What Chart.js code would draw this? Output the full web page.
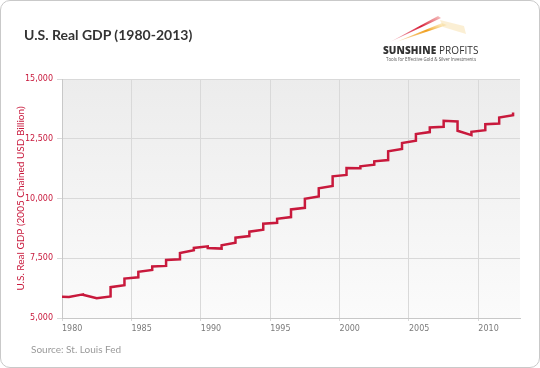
<!DOCTYPE html>
<html>
<head>
<meta charset="utf-8">
<script src="https://cdn.jsdelivr.net/npm/chart.js@4.4.0/dist/chart.umd.min.js"></script>
<style>
  body { margin: 0; background: #fff; }
  #card {
    position: absolute; left: 0; top: 0; width: 538px; height: 366px;
    border: 1px solid #c9c9c9; border-radius: 10px; background: #fff;
  }
  #chart { position: absolute; left: 0; top: 0; }
  #title {
    position: absolute; left: 24px; top: 26px; font-family: Lato, sans-serif;
    font-weight: bold; font-size: 14px; color: #333;
  }
  #logo { position: absolute; left: 380px; top: 8px; width: 110px; height: 56px; }
  #logoName {
    position: absolute; left: 383px; top: 43px; font-family: "Open Sans", sans-serif;
    font-size: 10px; color: #333; letter-spacing: 0.1px;
  }
  #logoName b { font-weight: 800; }
  #tagline {
    position: absolute; left: 386px; top: 56px; font-family: "Open Sans", sans-serif;
    font-size: 4.4px; color: #555; white-space: nowrap;
  }
  #source {
    position: absolute; left: 31px; top: 343px; font-family: Lato, sans-serif;
    font-size: 10px; color: #9a9a9a;
  }
</style>
</head>
<body>
<div id="card"></div>
<canvas id="chart" width="540" height="368"></canvas>
<div id="title">U.S. Real GDP (1980-2013)</div>
<svg id="logo" viewBox="0 0 110 56">
  <defs>
    <linearGradient id="sw1" x1="0" y1="1" x2="1" y2="0">
      <stop offset="0" stop-color="#d8203a" stop-opacity="0.2"/>
      <stop offset="0.6" stop-color="#d8203a"/>
      <stop offset="1" stop-color="#e04040" stop-opacity="0.3"/>
    </linearGradient>
    <linearGradient id="sw2" x1="0" y1="1" x2="1" y2="0">
      <stop offset="0" stop-color="#f0a020" stop-opacity="0.2"/>
      <stop offset="0.6" stop-color="#f0a020"/>
      <stop offset="1" stop-color="#f8d060" stop-opacity="0.2"/>
    </linearGradient>
  </defs>
  <path d="M10 34 L58 8 L61 10 Z" fill="url(#sw1)"/>
  <path d="M16 34 L62 15 L67 17 Z" fill="url(#sw2)"/>
  <path d="M60 12 L84 18 L86 26 L63 19 Z" fill="#f6dca0" opacity="0.45"/>
</svg>
<div id="logoName"><b>SUNSHINE</b> PROFITS</div>
<div id="tagline">Tools for Effective Gold &amp; Silver Investments</div>
<div id="source">Source: St. Louis Fed</div>
<script>
// each year is drawn as a short segment centred on the year, with jumps in between
const years = [1980, 1981, 1982, 1983, 1984, 1985, 1986, 1987, 1988, 1989,
               1990, 1991, 1992, 1993, 1994, 1995, 1996, 1997, 1998, 1999,
               2000, 2001, 2002, 2003, 2004, 2005, 2006, 2007, 2008, 2009,
               2010, 2011, 2012, 2013];
// value at the start of each year's segment
const segStart = [5888, 5880, 5975, 5830, 6290, 6650, 6930, 7153, 7430, 7722,
                  7930, 7930, 8042, 8361, 8611, 8944, 9153, 9542, 9986, 10430,
                  10930, 11278, 11347, 11556, 11972, 12320, 12694, 12972, 13250, 12833,
                  12792, 13111, 13389, 13597];
// value at the end of each year's segment
const segEnd = [5880, 5988, 5830, 5900, 6375, 6705, 7013, 7180, 7460, 7833,
                8000, 7903, 8153, 8430, 8694, 8986, 9222, 9611, 10083, 10528,
                10986, 11264, 11417, 11611, 12069, 12417, 12778, 13000, 13222, 12653,
                12861, 13139, 13486];
const yTicks = [5000, 7500, 10000, 12500, 15000];
const xTicks = [1980, 1985, 1990, 1995, 2000, 2005, 2010];

var points = [];
for (var i = 0; i < years.length; i++) {
    points.push({x: Math.max(years[0], years[i] - 0.5), y: segStart[i]});
    if (segEnd[i] !== undefined) {
        points.push({x: years[i] + 0.5, y: segEnd[i]});
    }
}

const plotBg = {
    id: 'plotBg',
    beforeDraw(chart) {
        const a = chart.chartArea;
        const ctx = chart.ctx;
        const g = ctx.createLinearGradient(0, a.top, 0, a.bottom);
        g.addColorStop(0, '#ececec');
        g.addColorStop(1, '#fbfbfb');
        ctx.save();
        ctx.fillStyle = g;
        ctx.fillRect(a.left, a.top, a.right - a.left, a.bottom - a.top);
        ctx.restore();
    }
};

let ctx = document.getElementById('chart');
let gdpChart = new Chart(ctx, {
    type: 'line',
    data: {
        datasets: [{
            label: 'Real GDP',
            data: points,
            borderColor: '#c8193c',
            borderWidth: 2.5,
            pointRadius: 0,
            tension: 0,
            fill: false
        }]
    },
    options: {
        responsive: false,
        animation: false,
        devicePixelRatio: 1,
        layout: { padding: { left: 0, top: 79, right: 20, bottom: 30 } },
        plugins: {
            legend: { display: false },
            tooltip: { enabled: false }
        },
        scales: {
            x: {
                type: 'linear',
                min: 1980,
                max: 2013,
                afterFit: function (scale) { scale.height = 20; },
                afterBuildTicks: function (scale) {
                    scale.ticks = xTicks.map(v => ({value: v}));
                },
                grid: { color: '#d9d9d9', tickLength: 3 },
                border: { color: '#c8c8c8' },
                ticks: {
                    align: 'start',
                    padding: 3,
                    color: '#7a7a7a',
                    font: { family: 'DejaVu Sans', size: 8 },
                    callback: v => String(v)
                }
            },
            y: {
                min: 5000,
                max: 15000,
                afterFit: function (scale) { scale.width = 62; },
                afterBuildTicks: function (scale) {
                    scale.ticks = yTicks.map(v => ({value: v}));
                },
                grid: { color: '#d9d9d9', tickLength: 5 },
                border: { color: '#c8c8c8' },
                ticks: {
                    padding: 4,
                    color: '#c8193c',
                    font: { family: 'DejaVu Sans', size: 8 },
                    callback: v => v.toLocaleString('en-US')
                },
                title: {
                    display: true,
                    text: 'U.S. Real GDP (2005 Chained USD Billion)',
                    color: '#c8193c',
                    font: { family: 'Lato', size: 10 },
                    padding: { top: 15, bottom: 0 }
                }
            }
        }
    },
    plugins: [plotBg]
});
</script>
</body>
</html>
